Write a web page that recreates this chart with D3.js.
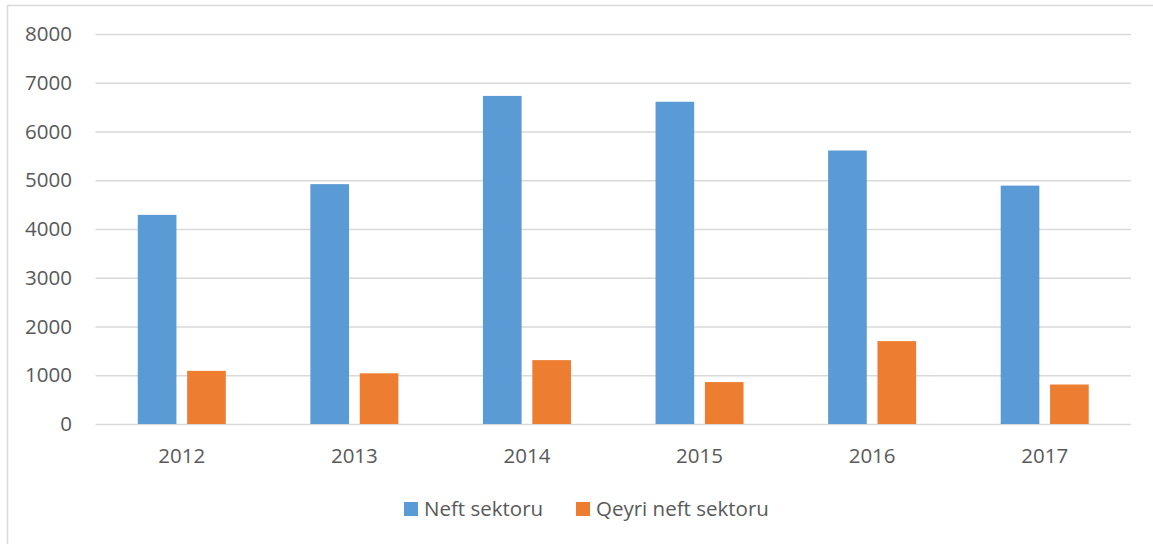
<!DOCTYPE html>
<meta charset="utf-8">
<style>
body { margin: 0; background: #fff; }
text { font-family: "Open Sans", "Noto Sans", sans-serif; fill: #595959; }
.grid line { stroke: #d9d9d9; stroke-width: 1.5; }
.grid .domain { display: none; }
</style>
<body>
<div id="chart"></div>
<script src="https://d3js.org/d3.v7.min.js"></script>
<script>
// data
var years = ["2012", "2013", "2014", "2015", "2016", "2017"];
var seriesNames = ["Neft sektoru", "Qeyri neft sektoru"];
var neft = [4290, 4920, 6730, 6610, 5610, 4890];
var qeyriNeft = [1090, 1040, 1310, 860, 1700, 810];
var yTicks = [0, 1000, 2000, 3000, 4000, 5000, 6000, 7000, 8000];
var colors = ["#5b9bd5", "#ed7d31"];

var W = 1153, H = 544;
var svg = d3.select("#chart").append("svg")
    .attr("width", W)
    .attr("height", H);

// outer frame
svg.append("rect")
    .attr("x", 7.5).attr("y", 5.5)
    .attr("width", W + 10).attr("height", H + 10)
    .attr("fill", "none")
    .attr("stroke", "#d9d9d9")
    .attr("stroke-width", 1.5);

var plotLeft = 95.5, plotRight = 1131, plotTop = 34, plotBottom = 424;

var x0 = d3.scaleBand()
    .domain(years)
    .range([plotLeft, plotRight])
    .paddingInner(0.49)
    .paddingOuter(0.245);

var x1 = d3.scaleBand()
    .domain(seriesNames)
    .range([0, x0.bandwidth()])
    .paddingInner(0.217);

var y = d3.scaleLinear()
    .domain([0, 8000])
    .range([plotBottom, plotTop]);

// gridlines
svg.append("g")
    .attr("class", "grid")
    .attr("transform", "translate(" + plotLeft + ",0)")
    .call(d3.axisRight(y).tickValues(yTicks).tickSize(plotRight - plotLeft).tickFormat(""));

// y labels
svg.append("g").selectAll("text")
    .data(yTicks)
  .enter().append("text")
    .attr("x", 72)
    .attr("y", function(d) { return y(d); })
    .attr("dy", "0.35em")
    .attr("text-anchor", "end")
    .style("font-size", "20.5px")
    .text(function(d) { return d; });

var rows = years.map(function(yr, i) {
    return { year: yr, values: [neft[i], qeyriNeft[i]] };
});

var groups = svg.append("g").selectAll("g")
    .data(rows)
  .enter().append("g")
    .attr("transform", function(d) { return "translate(" + x0(d.year) + ",0)"; });

groups.selectAll("rect")
    .data(function(d) { return d.values.map(function(v, j) { return { name: seriesNames[j], value: v, j: j }; }); })
  .enter().append("rect")
    .attr("x", function(d) { return x1(d.name); })
    .attr("y", function(d) { return y(d.value); })
    .attr("width", x1.bandwidth())
    .attr("height", function(d) { return y(0) - y(d.value); })
    .attr("fill", function(d) { return colors[d.j]; });

// x labels
svg.append("g").selectAll("text")
    .data(years)
  .enter().append("text")
    .attr("x", function(d) { return x0(d) + x0.bandwidth() / 2; })
    .attr("y", 456)
    .attr("dy", "0.35em")
    .attr("text-anchor", "middle")
    .style("font-size", "20.5px")
    .text(function(d) { return d; });

// legend
var legendX = [404, 576];
var legend = svg.append("g").selectAll("g")
    .data(seriesNames)
  .enter().append("g")
    .attr("transform", function(d, i) { return "translate(" + legendX[i] + ",502)"; });

legend.append("rect")
    .attr("width", 14).attr("height", 14)
    .attr("fill", function(d, i) { return colors[i]; });

legend.append("text")
    .attr("x", 20)
    .attr("y", 7)
    .attr("dy", "0.35em")
    .style("font-size", "20.5px")
    .text(function(d) { return d; });
</script>
</body>
